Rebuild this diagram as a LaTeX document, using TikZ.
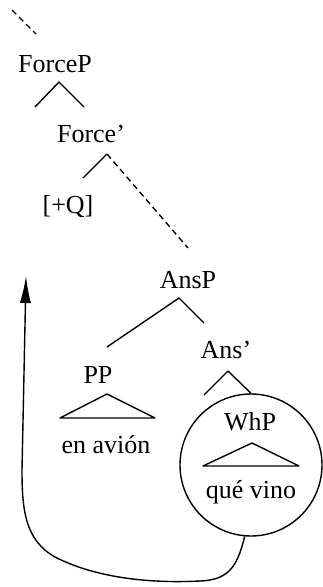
\documentclass[tikz,border=0pt]{standalone}
\usepackage{fontspec}
\setmainfont{Liberation Serif}
\usetikzlibrary{arrows.meta}
\begin{document}
\begin{tikzpicture}[
        x=1pt,
        y=-1pt,
        line join=round,
        % 样式
        lbl/.style={font=\fontsize{26}{30}\selectfont, inner sep=0pt, anchor=base},
        branch/.style={line width=1.4pt},
        trace/.style={line width=1.4pt, dash pattern=on 6pt off 4pt},
        move/.style={line width=1.4pt, -{Latex[length=27pt,width=11pt]}},
    ]
    \useasboundingbox (0,0) rectangle (322,587);

    % 树的节点
    \node[lbl] (forcep)   at (55,72)  {ForceP};
    \node[lbl] (forcebar) at (91,142) {Force’};
    \node[lbl] (q)        at (68,213) {[+Q]};
    \node[lbl] (ansp)     at (188,288) {AnsP};
    \node[lbl] (ansbar)   at (226,358) {Ans’};
    \node[lbl] (pp)       at (98,383) {PP};
    \node[lbl] (avion)    at (106,453) {en avión};
    \node[circle, draw, branch, minimum size=142pt, inner sep=0pt] (ring) at (251,465) {};
    \node[lbl] (whp)      at (250,430) {WhP};
    \node[lbl] (vino)     at (251,498) {qué vino};

    % 分枝端点
    \coordinate (up)       at (12,10);
    \coordinate (forcep-t) at (36,34);
    \coordinate (forcep-a) at (59,82);
    \coordinate (forcep-l) at (35,107);
    \coordinate (forcep-r) at (84,107);
    \coordinate (force-a)  at (107,154);
    \coordinate (force-l)  at (83,178);
    \coordinate (force-r)  at (188,248);
    \coordinate (ansp-a)   at (179,298);
    \coordinate (ansp-l)   at (107,347);
    \coordinate (ansp-r)   at (204,323);
    \coordinate (ans-a)    at (228,371);
    \coordinate (ans-l)    at (204,395);
    \coordinate (tip)      at (26,276);

    % 分枝
    \draw[trace]  (up) -- (forcep-t);
    \draw[branch] (forcep-l) -- (forcep-a) -- (forcep-r);
    \draw[branch] (force-l) -- (force-a);
    \draw[trace]  (force-a) -- (force-r);
    \draw[branch] (ansp-l) -- (ansp-a) -- (ansp-r);
    \draw[branch] (ans-l) -- (ans-a) -- (ring.north);

    % 三角形
    \draw[branch] (107,394) -- (60,418) -- (155,418) -- cycle;
    \draw[branch] (252,443) -- (203,466) -- (299,466) -- cycle;

    % 移位箭头
    \draw[move] (ring.-95) .. controls (238,562) and (232,580) .. (200,581)
        .. controls (140,584) and (90,575) .. (55,557)
        .. controls (25,540) and (22,510) .. (22,470) -- (tip);
\end{tikzpicture}
\end{document}
